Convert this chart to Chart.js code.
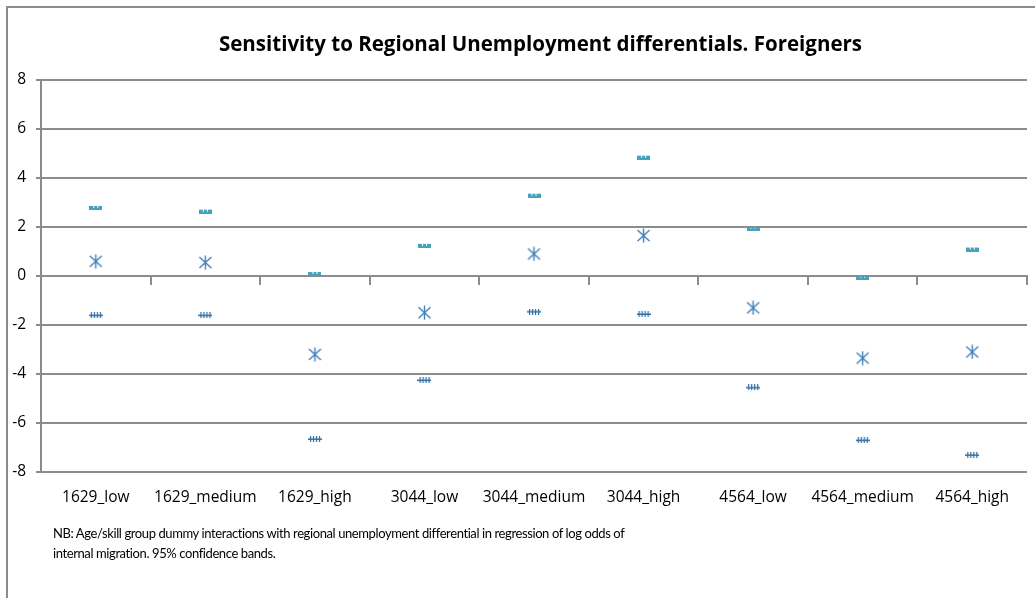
<!DOCTYPE html>
<html>
<head>
<meta charset="utf-8">
<script src="https://cdn.jsdelivr.net/npm/chart.js@4.4.1/dist/chart.umd.min.js"></script>
<style>
  html, body { margin: 0; padding: 0; background: #fff; overflow: hidden; }
  #wrap { position: relative; width: 1035px; height: 598px; }
  #frame { position: absolute; left: 6px; top: 6px; width: 1100px; height: 700px; border-left: 2px solid #8c8c8c; border-top: 2px solid #8c8c8c; }
  #title { position: absolute; left: 0; top: 29px; width: 1081px; text-align: center; font: bold 20.5px "Open Sans", sans-serif; color: #000; }
  #note { position: absolute; left: 53px; top: 523px; font: 13px Lato, sans-serif; letter-spacing: -0.4px; line-height: 20px; color: #000; }
  canvas { position: absolute; left: 0; top: 0; }
</style>
</head>
<body>
<div id="wrap">
  <div id="frame"></div>
  <canvas id="chart" width="1035" height="598"></canvas>
  <div id="title">Sensitivity to Regional Unemployment differentials. Foreigners</div>
  <div id="note">NB: Age/skill group dummy interactions with regional unemployment differential in regression of log odds of<br>internal migration. 95% confidence bands.</div>
</div>
<script>
const groups = ['1629_low', '1629_medium', '1629_high', '3044_low', '3044_medium', '3044_high', '4564_low', '4564_medium', '4564_high'];
const upper = [2.8, 2.65, 0.1, 1.25, 3.3, 4.85, 1.95, -0.05, 1.1];
const estimate = [0.6, 0.55, -3.2, -1.5, 0.9, 1.65, -1.3, -3.35, -3.1];
const lower = [-1.6, -1.6, -6.65, -4.25, -1.45, -1.55, -4.55, -6.7, -7.3];
const yTicks = { min: -8, max: 8, step: 2 };

const gridGray = '#8c8c8c';
const labelFont = { family: 'Open Sans', size: 15.5 };

// little marker bitmaps in the style of the original spreadsheet chart
function marker(w, h, draw) {
  const c = document.createElement('canvas');
  c.width = w; c.height = h;
  draw(c.getContext('2d'));
  return c;
}
const upperMark = marker(13, 5, g => {
  g.fillStyle = '#44a2bd';
  g.fillRect(0, 1, 13, 4);
  g.clearRect(4, 1, 1, 2);
  g.clearRect(8, 1, 1, 2);
});
const estMark = marker(15, 15, g => {
  g.strokeStyle = '#3f7fba';
  g.lineWidth = 1.4;
  g.beginPath();
  g.moveTo(7.5, 0.5); g.lineTo(7.5, 14.5);
  g.moveTo(1.5, 2); g.lineTo(13.5, 13);
  g.moveTo(13.5, 2); g.lineTo(1.5, 13);
  g.stroke();
});
const lowerMark = marker(14, 6, g => {
  g.fillStyle = '#2e6ea6';
  g.fillRect(0, 2.5, 14, 1.5);
  for (const x of [2, 5, 8, 11]) g.fillRect(x, 0, 1.2, 6);
});

function ds(label, data, img) {
  return { label, data, showLine: false, pointStyle: img, pointRadius: 7, pointHoverRadius: 7 };
}

new Chart(document.getElementById('chart'), {
  type: 'line',
  data: {
    labels: groups,
    datasets: [ds('Upper', upper, upperMark), ds('Estimate', estimate, estMark), ds('Lower', lower, lowerMark)]
  },
  options: {
    responsive: false,
    animation: false,
    layout: { padding: { top: 80, right: 6, bottom: 0, left: 0 } },
    plugins: { legend: { display: false }, tooltip: { enabled: false } },
    scales: {
      y: {
        min: yTicks.min, max: yTicks.max,
        ticks: { stepSize: yTicks.step, color: '#000', padding: 10, font: labelFont },
        grid: { color: gridGray, lineWidth: 2, tickLength: 5 },
        border: { display: true, color: gridGray, width: 2 },
        afterFit: s => { s.width = 41; }
      },
      x: {
        offset: true,
        ticks: { color: '#000', padding: 8, font: labelFont },
        grid: { display: false },
        border: { display: false },
        afterFit: s => { s.height = 126; }
      },
      xZero: {
        type: 'category',
        position: { y: 0 },
        offset: true,
        ticks: { display: false },
        grid: { drawOnChartArea: false, drawTicks: true, tickLength: 8, offset: true, color: gridGray, lineWidth: 2 },
        border: { display: true, color: gridGray, width: 2 }
      }
    }
  }
});
</script>
</body>
</html>
